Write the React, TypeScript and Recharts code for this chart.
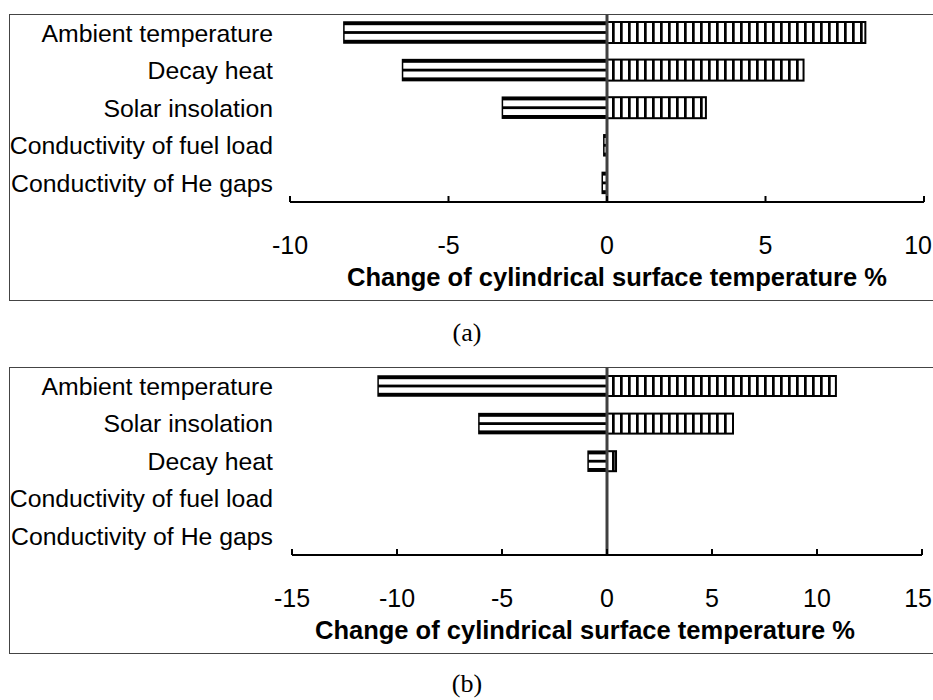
import { Bar, BarChart, ReferenceLine, XAxis, YAxis } from "recharts";

const categoriesA = [
  "Ambient temperature",
  "Decay heat",
  "Solar insolation",
  "Conductivity of fuel load",
  "Conductivity of He gaps",
];
const decreaseA = [-8.3, -6.45, -3.3, -0.1, -0.15];
const increaseA = [8.15, 6.2, 3.12, 0, 0];
const ticksA = [-10, -5, 0, 5, 10];

const categoriesB = [
  "Ambient temperature",
  "Solar insolation",
  "Decay heat",
  "Conductivity of fuel load",
  "Conductivity of He gaps",
];
const decreaseB = [-10.9, -6.1, -0.9, 0, 0];
const increaseB = [10.9, 6.0, 0.43, 0, 0];
const ticksB = [-15, -10, -5, 0, 5, 10, 15];

const AXIS_TITLE = "Change of cylindrical surface temperature %";
const SANS = '"Liberation Sans", Arial, sans-serif';
const SERIF = '"Liberation Serif", "Times New Roman", serif';

function box(x: number, y: number, width: number, height: number) {
  const x0 = width < 0 ? x + width : x;
  const y0 = height < 0 ? y + height : y;
  return { x0, y0, w: Math.abs(width), h: Math.abs(height) };
}

// negative side: horizontal stripes
function NegShape(props: any) {
  const { x0, y0, w, h } = box(props.x, props.y, props.width, props.height);
  if (!w || w < 0.5) return null;
  return (
    <g>
      <rect x={x0} y={y0} width={w} height={h} fill="#fff" stroke="#000" strokeWidth={1.5} />
      <rect x={x0} y={y0} width={w} height={3.2} fill="#000" />
      <rect x={x0} y={y0 + h / 2 - 1.4} width={w} height={2.8} fill="#000" />
      <rect x={x0} y={y0 + h - 3.2} width={w} height={3.2} fill="#000" />
    </g>
  );
}

// positive side: vertical stripes
function PosShape(props: any) {
  const { x0, y0, w, h } = box(props.x, props.y, props.width, props.height);
  if (!w || w < 0.5) return null;
  const lines = [];
  for (let lx = x0 + 5; lx < x0 + w - 2; lx += 8) {
    lines.push(<rect key={lx} x={lx} y={y0} width={2.7} height={h} fill="#000" />);
  }
  return (
    <g>
      <rect x={x0} y={y0} width={w} height={h} fill="#fff" stroke="#000" strokeWidth={2} />
      {lines}
    </g>
  );
}

// last tick label is pushed in so it ends at the page edge
const xTick = (last: number) => (props: any) => {
  const { x, y, payload } = props;
  const isLast = payload.value === last;
  return (
    <text
      x={isLast ? 932 : x}
      y={y}
      dy="0.71em"
      textAnchor={isLast ? "end" : "middle"}
      fontFamily={SANS}
      fontSize={25}
      fill="#000"
    >
      {payload.value}
    </text>
  );
};

const titleLabel = (shift: number) => (props: any) => {
  const vb = props.viewBox;
  return (
    <text
      x={vb.x + vb.width / 2 + shift}
      y={vb.y + 84}
      textAnchor="middle"
      fontFamily={SANS}
      fontWeight="bold"
      fontSize={25.5}
      fill="#000"
    >
      {AXIS_TITLE}
    </text>
  );
};

interface PanelProps {
  top: number;
  categories: string[];
  decrease: number[];
  increase: number[];
  ticks: number[];
  yWidth: number;
  right: number;
  barSize: number;
  titleShift: number;
}

function Panel({ top, categories, decrease, increase, ticks, yWidth, right, barSize, titleShift }: PanelProps) {
  const data = categories.map((name, i) => ({ name, neg: decrease[i], pos: increase[i] }));
  const lim = ticks[ticks.length - 1];
  return (
    <>
      <div
        style={{
          position: "absolute",
          left: 9,
          top: top + 14,
          width: 930,
          height: 285,
          border: "1px solid #444",
        }}
      />
      <div style={{ position: "absolute", left: 0, top }}>
        <BarChart
          width={940}
          height={300}
          data={data}
          layout="vertical"
          stackOffset="sign"
          margin={{ top: 14, right, left: 0, bottom: 8 }}
        >
          <XAxis
            type="number"
            domain={[-lim, lim]}
            ticks={ticks}
            height={90}
            axisLine={{ stroke: "#000", strokeWidth: 2 }}
            tickLine={{ stroke: "#000", strokeWidth: 2 }}
            tickSize={-6}
            tickMargin={40}
            tick={xTick(lim)}
            label={titleLabel(titleShift)}
          />
          <YAxis
            type="category"
            dataKey="name"
            width={yWidth}
            axisLine={false}
            tickLine={false}
            tickSize={0}
            tickMargin={yWidth - 273}
            tick={{ fill: "#000", fontSize: 24.8, fontFamily: SANS }}
          />
          <Bar dataKey="neg" stackId="s" barSize={barSize} shape={(p: any) => <NegShape {...p} />} isAnimationActive={false} />
          <Bar dataKey="pos" stackId="s" barSize={barSize} shape={(p: any) => <PosShape {...p} />} isAnimationActive={false} />
          <ReferenceLine x={0} stroke="#404040" strokeWidth={3} />
        </BarChart>
      </div>
    </>
  );
}

const captionStyle = (top: number): React.CSSProperties => ({
  position: "absolute",
  left: 367,
  width: 200,
  top,
  textAlign: "center",
  fontFamily: SERIF,
  fontSize: 26,
  lineHeight: "30px",
  color: "#000",
});

export default function App() {
  return (
    <div
      style={{
        position: "absolute",
        left: 0,
        top: 0,
        width: 933,
        height: 700,
        overflow: "hidden",
        background: "#fff",
      }}
    >
      <Panel
        top={0}
        categories={categoriesA}
        decrease={decreaseA}
        increase={increaseA}
        ticks={ticksA}
        yWidth={290}
        right={16}
        barSize={21}
        titleShift={10}
      />
      <div style={captionStyle(318)}>(a)</div>
      <Panel
        top={353}
        categories={categoriesB}
        decrease={decreaseB}
        increase={increaseB}
        ticks={ticksB}
        yWidth={292}
        right={18}
        barSize={20}
        titleShift={-22}
      />
      <div style={captionStyle(669)}>(b)</div>
    </div>
  );
}
